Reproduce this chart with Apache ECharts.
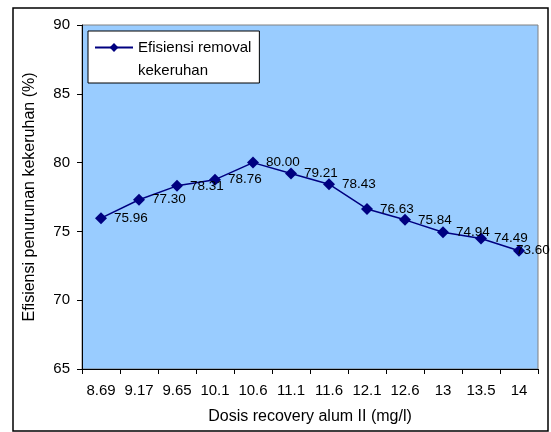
<!DOCTYPE html>
<html>
<head>
<meta charset="utf-8">
<script src="https://cdn.jsdelivr.net/npm/echarts@6/dist/echarts.min.js"></script>
<style>
html, body { margin: 0; padding: 0; background: #fff; }
#chart { width: 551px; height: 432px; }
</style>
</head>
<body>
<div id="chart"></div>
<script>
// dosis recovery alum II (mg/l)
var dosis = ['8.69', '9.17', '9.65', '10.1', '10.6', '11.1', '11.6', '12.1', '12.6', '13', '13.5', '14'];
// efisiensi removal kekeruhan (%)
var efisiensi = [75.96, 77.30, 78.31, 78.76, 80.00, 79.21, 78.43, 76.63, 75.84, 74.94, 74.49, 73.60];
var yTicks = [65, 70, 75, 80, 85, 90];

var chart = echarts.init(document.getElementById('chart'));
var font = 'Liberation Sans, Arial, sans-serif';

// last label sits over its own marker, like Excel did it
var seriesData = efisiensi.map(function (v, i) {
    if (i == efisiensi.length - 1) {
        return { value: v, label: { offset: [-16, 0] } };
    }
    return v;
});

var option = {
    animation: false,
    textStyle: { fontFamily: font },
    graphic: [{
        type: 'rect',
        shape: { x: 13, y: 8, width: 535, height: 423 },
        style: { fill: null, stroke: '#000', lineWidth: 1.5 },
        z: -1
    }, {
        type: 'text',
        left: 138, top: 63,
        z: 100,
        style: { text: 'kekeruhan', fontSize: 15, fontFamily: font, fill: '#000' }
    }],
    grid: {
        left: 82, top: 25, right: 13, bottom: 63,
        show: true,
        backgroundColor: '#99CCFF',
        borderColor: '#808080',
        borderWidth: 1
    },
    legend: {
        left: 88, top: 31,
        orient: 'vertical',
        backgroundColor: '#fff',
        borderColor: '#000',
        borderWidth: 1,
        borderRadius: 0,
        padding: [9, 8, 28, 6],
        itemWidth: 38,
        itemHeight: 11,
        itemGap: 4,
        formatter: function () { return 'Efisiensi removal'; },
        textStyle: { fontSize: 15, color: '#000', fontFamily: font }
    },
    xAxis: {
        type: 'category',
        data: dosis,
        name: 'Dosis recovery alum II (mg/l)',
        nameLocation: 'middle',
        nameGap: 40,
        nameTextStyle: { fontSize: 16, color: '#000' },
        axisLine: { lineStyle: { color: '#000', width: 1 } },
        axisTick: { show: true, length: 5, lineStyle: { color: '#000' } },
        axisLabel: { color: '#000', fontSize: 15, margin: 14 },
        splitLine: { show: false }
    },
    yAxis: {
        type: 'value',
        min: yTicks[0],
        max: yTicks[yTicks.length - 1],
        interval: 5,
        name: 'Efisiensi penurunan kekeruhan (%)',
        nameLocation: 'middle',
        nameGap: 44,
        nameTextStyle: { fontSize: 16, color: '#000' },
        axisLine: { show: true, lineStyle: { color: '#000', width: 1 } },
        axisTick: { show: true, length: 5, lineStyle: { color: '#000' } },
        axisLabel: { color: '#000', fontSize: 15, margin: 12 },
        splitLine: { show: false }
    },
    series: [{
        name: 'Efisiensi removal kekeruhan',
        type: 'line',
        data: seriesData,
        symbol: 'diamond',
        symbolSize: 12,
        itemStyle: { color: '#000080' },
        lineStyle: { color: '#000080', width: 1.5 },
        label: {
            show: true,
            position: 'right',
            distance: 7,
            color: '#000',
            fontSize: 13.5,
            formatter: function (p) { return p.value.toFixed(2); }
        }
    }]
};
chart.setOption(option);
</script>
</body>
</html>
